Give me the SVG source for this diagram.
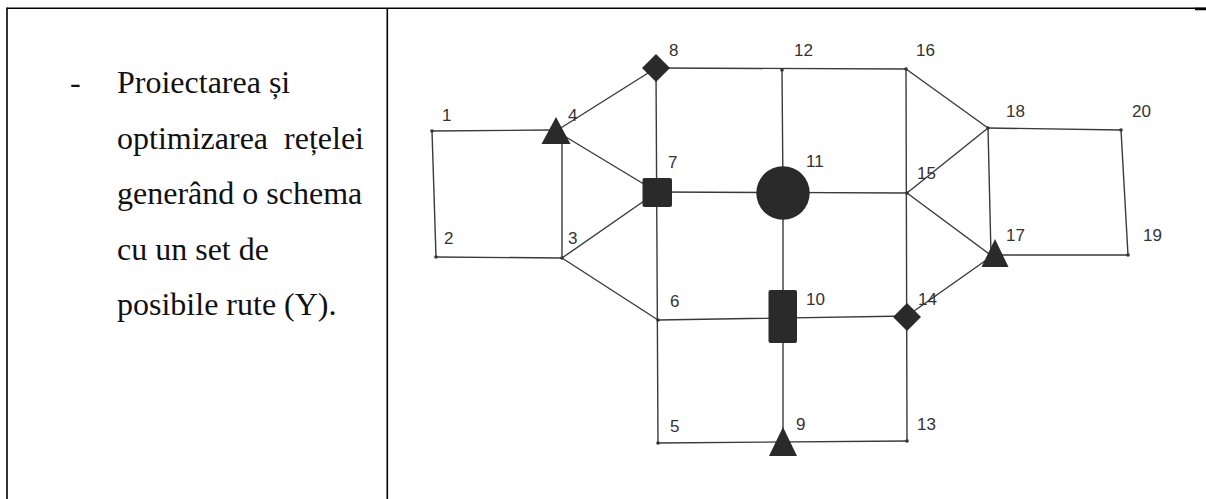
<svg xmlns="http://www.w3.org/2000/svg" width="1206" height="499" viewBox="0 0 1206 499">
<style>
.border{stroke:#000;stroke-width:1.6;fill:none}
.txt{font-family:"Liberation Serif","Times New Roman",serif;font-size:32px;fill:#111}
.edge{stroke:#3a3a3a;stroke-width:1.4;fill:none;stroke-linecap:round}
.lbl{font-family:"Liberation Sans",Arial,sans-serif;font-size:17px;fill:#333}
.shape{fill:#2a2a2a}
.dot{fill:#333}
</style>
<rect width="1206" height="499" fill="#fff"/>
<g id="table">
<line class="border" x1="7" y1="8.2" x2="1206" y2="8.2"/>
<line class="border" x1="7" y1="7.5" x2="7" y2="499"/>
<line class="border" x1="387.3" y1="8" x2="387.3" y2="499"/>
<line x1="1195" y1="9" x2="1206" y2="9" stroke="#000" stroke-width="2.5"/>
</g>
<g id="description">
<text class="txt" x="70" y="93">-</text>
<text class="txt" x="117" y="93">Proiectarea și</text>
<text class="txt" x="117" y="149" xml:space="preserve">optimizarea  rețelei</text>
<text class="txt" x="117" y="204">generând o schema</text>
<text class="txt" x="117" y="260">cu un set de</text>
<text class="txt" x="117" y="315">posibile rute (Y).</text>
</g>
<g id="connectors">
<line class="edge" x1="432" y1="131" x2="550" y2="130"/>
<line class="edge" x1="432" y1="131" x2="436" y2="257"/>
<line class="edge" x1="436" y1="257" x2="562" y2="258"/>
<line class="edge" x1="562" y1="258" x2="562" y2="142"/>
<line class="edge" x1="556" y1="131" x2="656" y2="68"/>
<line class="edge" x1="556" y1="131" x2="657" y2="192"/>
<line class="edge" x1="562" y1="258" x2="657" y2="192"/>
<line class="edge" x1="562" y1="258" x2="658" y2="320"/>
<line class="edge" x1="656" y1="68" x2="658" y2="443"/>
<line class="edge" x1="656" y1="68" x2="906" y2="69"/>
<line class="edge" x1="782" y1="70" x2="783" y2="193"/>
<line class="edge" x1="657" y1="192" x2="907" y2="193"/>
<line class="edge" x1="783" y1="193" x2="783" y2="443"/>
<line class="edge" x1="658" y1="320" x2="907" y2="316"/>
<line class="edge" x1="658" y1="443" x2="907" y2="441"/>
<line class="edge" x1="906" y1="69" x2="907" y2="441"/>
<line class="edge" x1="906" y1="69" x2="988" y2="128"/>
<line class="edge" x1="907" y1="193" x2="988" y2="128"/>
<line class="edge" x1="907" y1="193" x2="992" y2="256"/>
<line class="edge" x1="907" y1="316" x2="992" y2="256"/>
<line class="edge" x1="988" y1="128" x2="991" y2="255"/>
<line class="edge" x1="988" y1="128" x2="1121" y2="130"/>
<line class="edge" x1="1121" y1="130" x2="1128" y2="255"/>
<line class="edge" x1="995" y1="255" x2="1128" y2="255"/>
</g>
<g id="n1"><circle class="dot" cx="432" cy="131" r="1.8"/><text class="lbl" x="442" y="121">1</text></g>
<g id="n2"><circle class="dot" cx="436" cy="257" r="1.8"/><text class="lbl" x="444" y="244">2</text></g>
<g id="n3"><circle class="dot" cx="562" cy="258" r="1.8"/><text class="lbl" x="568" y="244">3</text></g>
<g id="n4"><polygon class="shape" points="556,117 570.5,144 541.5,144"/><text class="lbl" x="568" y="121">4</text></g>
<g id="n5"><circle class="dot" cx="658" cy="443" r="1.8"/><text class="lbl" x="670" y="432">5</text></g>
<g id="n6"><circle class="dot" cx="658" cy="320" r="1.8"/><text class="lbl" x="670" y="307">6</text></g>
<g id="n7"><rect class="shape" x="642.5" y="178" width="29.5" height="29" rx="2"/><text class="lbl" x="668" y="168">7</text></g>
<g id="n8"><polygon class="shape" points="656,54 670,68 656,82 642,68"/><text class="lbl" x="669" y="56">8</text></g>
<g id="n9"><polygon class="shape" points="783,427 797,456 769,456"/><text class="lbl" x="796" y="430">9</text></g>
<g id="n10"><rect class="shape" x="768.5" y="290" width="28.5" height="53" rx="2"/><text class="lbl" x="806" y="305">10</text></g>
<g id="n11"><circle class="shape" cx="783" cy="193" r="26.7"/><text class="lbl" x="806" y="167">11</text></g>
<g id="n12"><circle class="dot" cx="782" cy="70" r="1.8"/><text class="lbl" x="794" y="56">12</text></g>
<g id="n13"><circle class="dot" cx="907" cy="441" r="1.8"/><text class="lbl" x="917" y="430">13</text></g>
<g id="n14"><polygon class="shape" points="907,303 921,317 907,331 893,317"/><text class="lbl" x="918" y="305">14</text></g>
<g id="n15"><circle class="dot" cx="907" cy="193" r="1.8"/><text class="lbl" x="917" y="179">15</text></g>
<g id="n16"><circle class="dot" cx="906" cy="69" r="1.8"/><text class="lbl" x="916" y="56">16</text></g>
<g id="n17"><polygon class="shape" points="995,239 1008.5,267 981.5,267"/><text class="lbl" x="1006" y="241">17</text></g>
<g id="n18"><circle class="dot" cx="988" cy="128" r="1.8"/><text class="lbl" x="1006" y="117">18</text></g>
<g id="n19"><circle class="dot" cx="1128" cy="255" r="1.8"/><text class="lbl" x="1143" y="241">19</text></g>
<g id="n20"><circle class="dot" cx="1121" cy="130" r="1.8"/><text class="lbl" x="1132" y="117">20</text></g>
</svg>
